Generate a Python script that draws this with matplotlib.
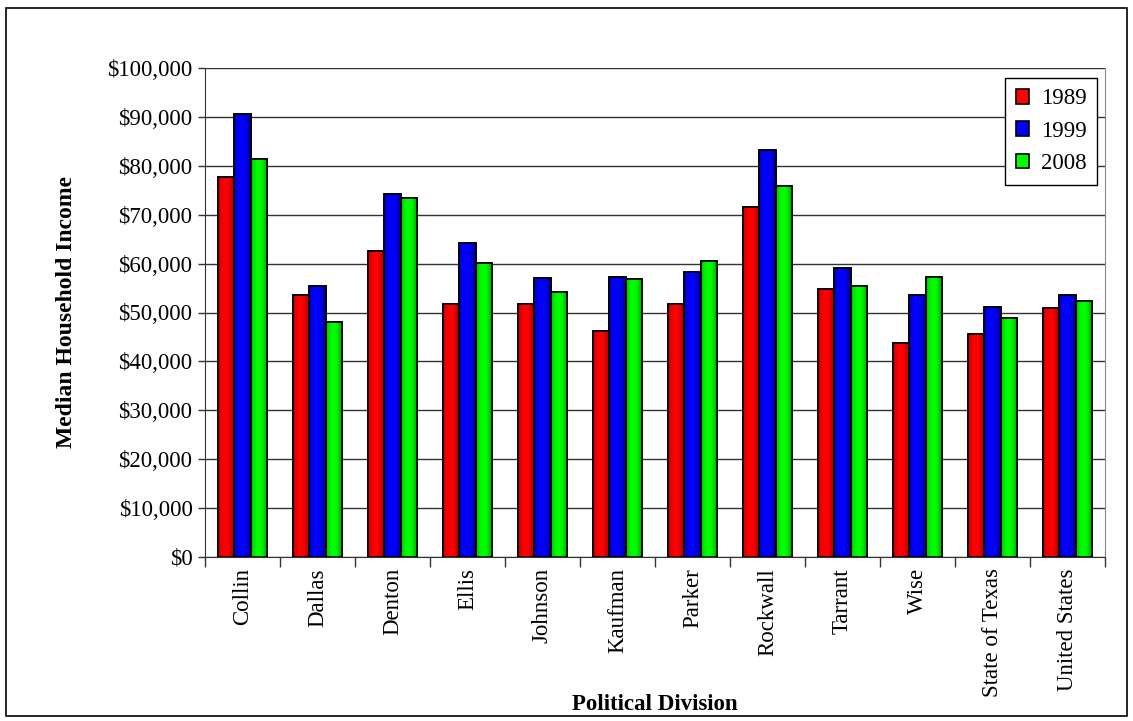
import numpy as np
import matplotlib
matplotlib.use("Agg")
import matplotlib.pyplot as plt
from matplotlib.patches import Rectangle
from matplotlib.colors import to_rgb
from matplotlib.ticker import FuncFormatter, MultipleLocator, FixedLocator

divisions = ["Collin", "Dallas", "Denton", "Ellis", "Johnson", "Kaufman",
             "Parker", "Rockwall", "Tarrant", "Wise", "State of Texas", "United States"]
years = ["1989", "1999", "2008"]
income_1989 = [77700, 53600, 62600, 51700, 51700, 46200, 51700, 71600, 54800, 43800, 45600, 50900]
income_1999 = [90600, 55400, 74300, 64300, 57000, 57300, 58300, 83200, 59000, 53600, 51100, 53600]
income_2008 = [81400, 48100, 73500, 60100, 54200, 56900, 60500, 75900, 55400, 57200, 48900, 52400]
series_colors = ["#ff0000", "#0000ff", "#00ff00"]

plt.rcParams["font.family"] = ["Liberation Serif", "DejaVu Serif"]

fig = plt.figure(figsize=(11.33, 7.21), dpi=100)
fig.add_artist(Rectangle((6 / 1133, 1 - 716 / 721), 1121 / 1133, 708 / 721,
                         transform=fig.transFigure, fill=False, edgecolor="black", lw=1.2))
ax = fig.add_axes([205 / 1133, 1 - 557 / 721, 900 / 1133, 489 / 721])

x = np.arange(len(divisions))
width = 0.222
offsets = [-width, 0, width]


def shaded(color, n=64):
    # cylinder-like shading across the bar width
    base = np.array(to_rgb(color))
    t = np.linspace(0, 1, n)
    profile = 0.4 + 0.6 * np.clip(np.sin(np.pi * (t * 0.95 + 0.08)), 0, 1) ** 0.5
    img = np.clip(base[None, :] * profile[:, None], 0, 1)
    return img[None, :, :]


for vals, off, col, yr in zip([income_1989, income_1999, income_2008], offsets, series_colors, years):
    bars = ax.bar(x + off, vals, width, color=col, edgecolor="black", linewidth=1.2,
                  label=yr, zorder=3)
    for b in bars:
        x0, y0 = b.get_x(), b.get_y()
        w, h = b.get_width(), b.get_height()
        im = ax.imshow(shaded(col), extent=(x0, x0 + w, y0, y0 + h), aspect="auto",
                       zorder=3.5, interpolation="bilinear")
        im.set_clip_path(b)
        ax.add_patch(Rectangle((x0, y0), w, h, fill=False, edgecolor="black", lw=1.2, zorder=4))

ax.set_xlim(-0.5, len(divisions) - 0.5)
ax.set_ylim(0, 100000)
ax.yaxis.set_major_locator(MultipleLocator(10000))
ax.yaxis.set_major_formatter(FuncFormatter(lambda v, p: f"${v:,.0f}"))
ax.grid(axis="y", color="#333333", lw=1.0, zorder=1)
ax.set_axisbelow(True)

ax.set_xticks(x)
ax.set_xticklabels(divisions, rotation=90, fontsize=16.5)
ax.tick_params(axis="x", which="major", length=0, pad=8)
ax.xaxis.set_minor_locator(FixedLocator(np.arange(-0.5, len(divisions), 1.0)))
ax.tick_params(axis="x", which="minor", length=7, width=1, color="#333333", direction="out")
ax.tick_params(axis="y", length=5, width=1, color="#333333", direction="out", labelsize=16.5, pad=4)

ax.spines["top"].set_visible(False)
ax.spines["right"].set_color("#888888")
ax.spines["left"].set_color("#333333")
ax.spines["bottom"].set_color("#333333")

ax.set_ylabel("Median Household Income", fontsize=17, fontweight="bold")
ax.yaxis.set_label_coords(-(205 - 77) / 900, 0.5)
ax.set_xlabel("Political Division", fontsize=16.5, fontweight="bold")
ax.xaxis.set_label_coords(0.5, -(694 - 557) / 489)

leg = ax.legend(loc="upper right", bbox_to_anchor=(1097 / 1133, 1 - 78 / 721),
                bbox_transform=fig.transFigure, fontsize=16.5, frameon=True, fancybox=False,
                edgecolor="black", framealpha=1, borderpad=0.45, labelspacing=0.5,
                handlelength=0.6, handleheight=0.6, handletextpad=0.5, borderaxespad=0)
leg.get_frame().set_linewidth(1.0)

fig.savefig("out.png", dpi=100)
